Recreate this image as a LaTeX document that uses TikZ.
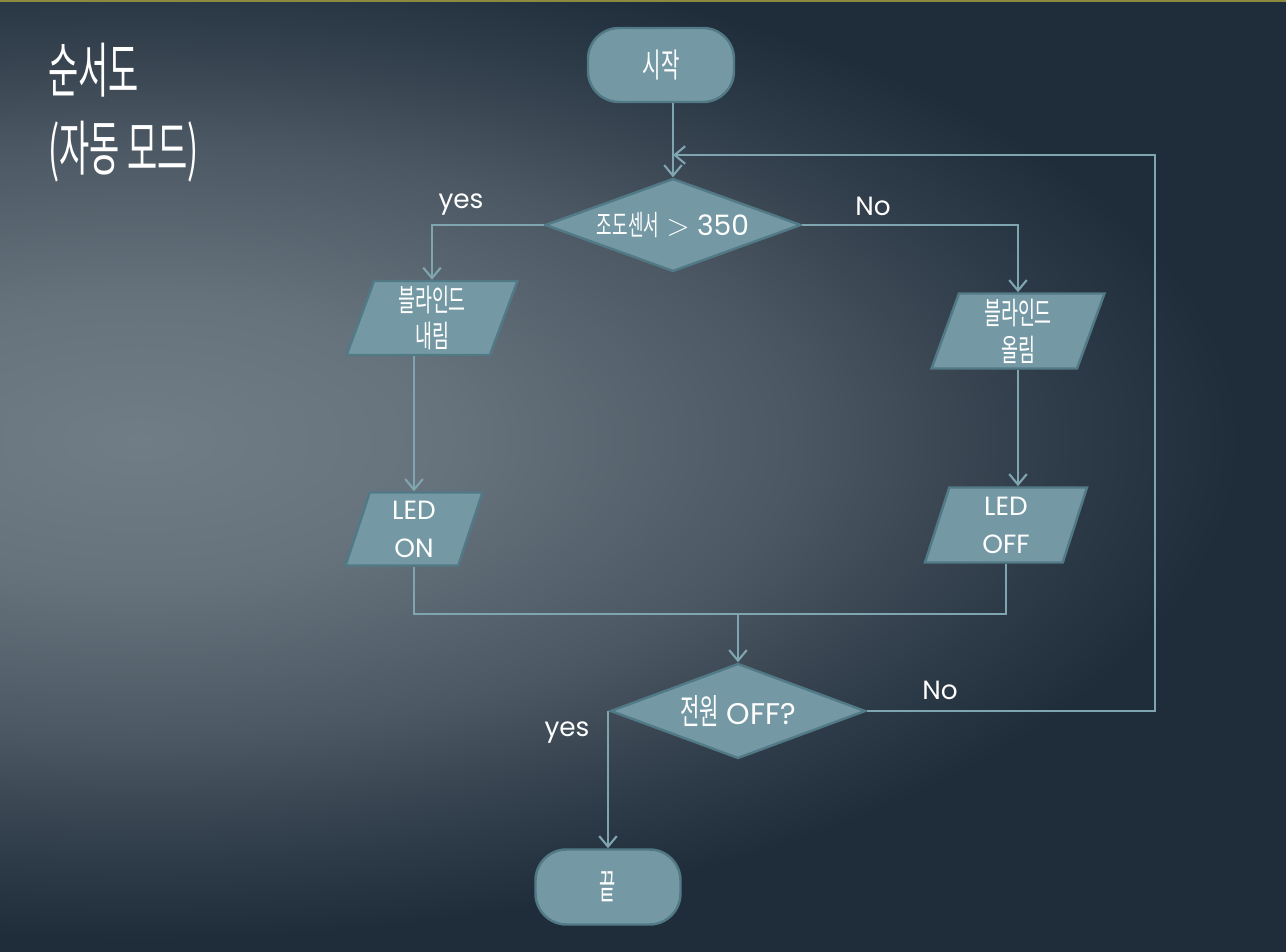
\documentclass[tikz,border=0pt]{standalone}
\usepackage{fontspec}
\setmainfont{Poppins}
\newfontfamily\krfont{Noto Sans CJK KR}
\usetikzlibrary{arrows.meta,calc,positioning,shapes.geometric}
\definecolor{boxfill}{HTML}{7499A5}
\definecolor{boxline}{HTML}{527A86}
\definecolor{flowline}{HTML}{7FA5B1}
\definecolor{bgmid}{HTML}{707D87}
\definecolor{bgsoft}{HTML}{66737D}
\definecolor{bgb}{HTML}{4B5762}
\definecolor{bgc}{HTML}{2E3B48}
\definecolor{bgdark}{HTML}{1F2C3A}
\definecolor{topedge}{HTML}{8C8A3C}
\pgfdeclareradialshading{slidebg}{\pgfpoint{0bp}{0bp}}{color(0bp)=(bgmid); color(7bp)=(bgsoft); color(15bp)=(bgb); color(21bp)=(bgc); color(25bp)=(bgdark); color(50bp)=(bgdark)}
\newcommand\kr[1]{{\krfont\scalebox{0.6}[1]{#1}}}
\tikzset{%
	terminal/.style = {draw=boxline, fill=boxfill, line width=1.4pt, rectangle, rounded corners=0.62cm, text=white, minimum width=2.92cm, minimum height=1.48cm},
	inout/.style    = {draw=boxline, fill=boxfill, line width=1.4pt, trapezium, trapezium left angle=68, trapezium right angle=112, trapezium stretches body, text=white, align=center, inner sep=1pt},
	decision/.style = {draw=boxline, fill=boxfill, line width=1.4pt, diamond, inner sep=0pt, text=white},
	flow/.style     = {draw=flowline, line width=1.2pt},
	arrow/.style    = {flow, -{Straight Barb[length=6pt,width=10pt]}},
	branch/.style   = {text=white, font=\fontsize{15}{18}\selectfont, inner sep=0pt},
}
\begin{document}
\begin{tikzpicture}[x=0.02cm, y=-0.02cm]
	\useasboundingbox (0,0) rectangle (1286,952);
	% slide background
	\begin{scope}
		\clip (0,0) rectangle (1286,952);
		\fill[bgdark] (0,0) rectangle (1286,952);
		\shade[shading=slidebg] (140,440) ellipse [x radius=22cm, y radius=10cm];
	\end{scope}
	\fill[topedge] (0,0) rectangle (1286,2);
	% title
	\node[anchor=north west, align=left, inner sep=0pt, text=white, font=\krfont\fontsize{34}{44}\selectfont] (title) at (48,43) {\scalebox{0.55}[1]{순서도}\\\scalebox{0.55}[1]{(자동 모드)}};
	% nodes
	\node[terminal, font=\fontsize{19}{22}\selectfont] (start) at (661,65) {\kr{시작}};
	\node[decision, minimum width=5.12cm, minimum height=1.86cm, font=\fontsize{16}{20}\selectfont] (cond) at (673,225) {\makebox[0pt]{\kr{조도센서} $>$ 350}};
	\node[inout, minimum width=3.42cm, minimum height=1.48cm, font=\fontsize{17.5}{21}\selectfont] (down) at (432,318) {\kr{블라인드}\\\kr{내림}};
	\node[inout, minimum width=3.46cm, minimum height=1.5cm, font=\fontsize{17.5}{21}\selectfont] (up) at (1018,331) {\kr{블라인드}\\\kr{올림}};
	\node[inout, minimum width=2.74cm, minimum height=1.46cm, font=\fontsize{15}{21.6}\selectfont] (on) at (414,529) {LED\\ON};
	\node[inout, minimum width=3.24cm, minimum height=1.5cm, font=\fontsize{15}{21.6}\selectfont] (off) at (1006,525) {LED\\OFF};
	\node[decision, minimum width=5.1cm, minimum height=1.9cm, font=\fontsize{17}{20}\selectfont] (power) at (738,711) {\makebox[0pt]{{\fontsize{20}{24}\selectfont\kr{전원}} OFF?}};
	\node[terminal, minimum width=2.9cm, minimum height=1.5cm, font=\fontsize{20}{24}\selectfont] (stop) at (608,887) {{\krfont\scalebox{0.5}[1]{끝}}};
	% helper points
	\coordinate (rail) at (1155,155);
	\coordinate (merge) at (cond.north |- rail);
	\coordinate (join) at (power.north |- 0,614);
	% connectors
	\draw[arrow] (start.south -| cond.north) -- (cond.north);
	\draw[arrow] (cond.west) -| (down.north);
	\draw[arrow] (cond.east) -| (up.north);
	\draw[arrow] (on.north |- down.south) -- (on.north);
	\draw[arrow] (up.south) -- (up.south |- off.north);
	\draw[flow] (on.south) |- (join) -| (off.south);
	\draw[arrow] (join) -- (power.north);
	\draw[arrow] (power.east) -| (rail) -- (merge);
	\draw[arrow] (stop.north |- power.west) -- (stop.north);
	% branch labels
	\node[branch] (yesa) at (461,205) {yes};
	\node[branch] (noa) at (873,206) {No};
	\node[branch] (nob) at (940,690) {No};
	\node[branch] (yesb) at (567,733) {yes};
\end{tikzpicture}
\end{document}
